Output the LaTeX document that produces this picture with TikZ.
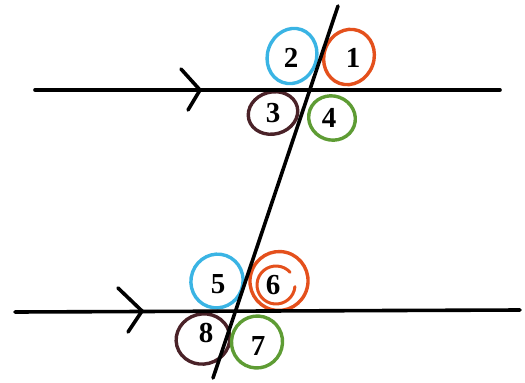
\documentclass[tikz,border=0pt]{standalone}
\usepackage{fontspec}
\setmainfont{Liberation Serif}
\usetikzlibrary{shapes.geometric}
\definecolor{cy}{HTML}{3AB4E4}
\definecolor{orr}{HTML}{E4501C}
\definecolor{brn}{HTML}{4A2228}
\definecolor{grn}{HTML}{5E9C34}
\tikzset{
  blk/.style={line width=3.6pt, line cap=round, line join=miter, black},
  ring/.style={ellipse, line width=3.4pt, inner sep=0pt},
  num/.style={font=\fontsize{29}{31}\selectfont\bfseries, inner sep=0pt}
}
\begin{document}
\begin{tikzpicture}[x=1pt,y=-1pt]
\useasboundingbox (0,0) rectangle (525,383);
% rings
\node[ring, draw=cy, minimum width=49pt, minimum height=56pt, rotate=-20] (e2) at (292,56) {};
\node[ring, draw=orr, minimum width=50pt, minimum height=56pt, rotate=-20] (e1) at (349,57) {};
\node[ring, draw=brn, minimum width=50pt, minimum height=42pt, rotate=15] (e3) at (273,113) {};
\node[ring, draw=grn, minimum width=47pt, minimum height=44pt, rotate=-20] (e4) at (332,118) {};
\node[ring, draw=cy, minimum width=52pt, minimum height=54pt, rotate=-20] (e5) at (217,281) {};
\node[ring, draw=orr, minimum width=58pt, minimum height=59pt, rotate=-15] (e6) at (279,281) {};
\node[ring, draw=brn, minimum width=54pt, minimum height=50pt, rotate=15] (e8) at (203,339) {};
\node[ring, draw=grn, minimum width=51pt, minimum height=52pt, rotate=-15] (e7) at (257,342) {};
\coordinate (sp) at (276,285);
\draw[orr, line width=3pt, line cap=round] ([shift={(5:19 and 19)}]sp) arc[start angle=5, end angle=318, x radius=19, y radius=19];
% lines
\coordinate (L1a) at (35,90);
\coordinate (L1b) at (500,90);
\coordinate (L2a) at (15,312);
\coordinate (L2b) at (520,310);
\coordinate (Ta) at (338,6);
\coordinate (Tb) at (213,378);
\coordinate (A1u) at (181,69);
\coordinate (A1t) at (200,90);
\coordinate (A1d) at (188,110);
\coordinate (A2u) at (118,288);
\coordinate (A2t) at (142,311);
\coordinate (A2d) at (128,332);
\draw[blk] (L1a) -- (L1b);
\draw[blk] (L2a) -- (L2b);
\draw[blk] (Ta) -- (Tb);
\draw[blk] (A1u) -- (A1t) -- (A1d);
\draw[blk] (A2u) -- (A2t) -- (A2d);
% labels
\node[num] (n2) at (291,58) {2};
\node[num] (n1) at (353,58) {1};
\node[num] (n3) at (273,113) {3};
\node[num] (n4) at (329,118) {4};
\node[num] (n5) at (218,284) {5};
\node[num] (n6) at (273,285) {6};
\node[num] (n8) at (206,333) {8};
\node[num] (n7) at (258,346) {7};
\end{tikzpicture}
\end{document}
